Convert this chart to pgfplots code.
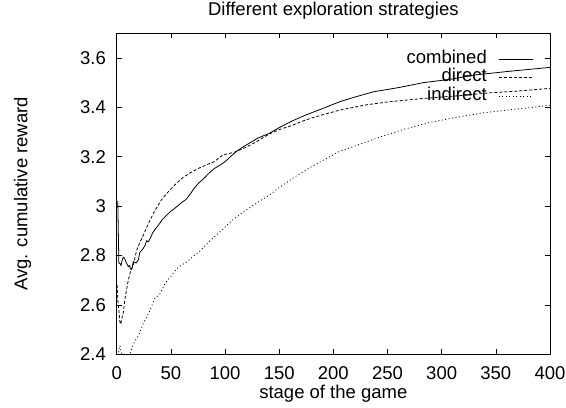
\documentclass[border=0pt]{standalone}
\usepackage{fontspec}
\setmainfont{Liberation Sans}
\usepackage{pgfplots}
\pgfplotsset{compat=1.18}

\begin{document}
\fontsize{18.5bp}{22bp}\selectfont
\begin{tikzpicture}
\begin{axis}[
    name=ax,
    scale only axis,
    width=433.3bp,
    height=321bp,
    xmin=0, xmax=400,
    ymin=2.4, ymax=3.7,
    xtick={0,50,...,400},
    ytick={2.4,2.6,2.8,3.0,3.2,3.4,3.6},
    /pgf/number format/assume math mode=true,
    tick align=inside,
    tick pos=both,
    major tick length=5bp,
    axis line style={line width=0.9bp},
    tick style={line width=0.6bp, black},
    xticklabel style={anchor=base, inner sep=0pt, yshift=-25bp},
    yticklabel style={anchor=east, inner sep=0pt, xshift=-10.7bp},
    title={Different exploration strategies},
    title style={at={(axis description cs:0.5,1)}, anchor=base, inner sep=0pt, yshift=11.6bp},
    xlabel={stage of the game},
    xlabel style={at={(axis description cs:0.5,-0.1371)}, anchor=base, inner sep=0pt},
    ylabel={Avg. cumulative reward},
    ylabel style={at={(axis description cs:-0.2063,0.5)}, anchor=base, inner sep=0pt},
    legend plot pos=right,
    legend cell align=right,
    legend image code/.code={\draw[#1] (0bp,0bp) -- (34bp,0bp);},
    legend style={draw=none, fill=none, inner sep=0pt, outer sep=0pt,
        at={(0.9615,0.9488)}, anchor=north east,
        column sep=11.7bp,
        nodes={inner sep=0pt, text height=13.75bp, text depth=4.75bp}},
]
\addplot[black, line width=0.8bp] coordinates {
    (1,3.02) (2,2.77) (3,2.768) (4,2.76) (5,2.78) (6,2.793) (7,2.79) (9,2.77)
    (10.7,2.755) (12,2.76) (12.6,2.745) (14,2.745) (15.3,2.775) (18,2.77)
    (19.9,2.782) (21.5,2.815) (24,2.825) (26,2.84) (27.7,2.86) (29,2.855)
    (30.8,2.868) (33,2.89) (36,2.91) (38.4,2.922) (42,2.945) (46,2.963)
    (50,2.98) (52,2.985) (56,3.0) (60,3.015) (64,3.027) (68,3.05) (72,3.075)
    (76,3.095) (80,3.11) (85,3.133) (90,3.152) (95,3.165) (100,3.18)
    (105,3.2) (110,3.22) (116,3.238) (122,3.254) (130,3.275) (141,3.295)
    (150,3.318) (162,3.345) (175,3.37) (190,3.395) (206,3.423) (220,3.442)
    (237,3.463) (260,3.48) (283,3.50) (310,3.515) (330,3.531) (360,3.545)
    (400,3.562)
};
\addplot[black, line width=0.8bp, dash pattern=on 3bp off 2bp] coordinates {
    (0.5,2.68) (1,2.62) (2,2.58) (3,2.53) (3.7,2.522) (5,2.55) (6,2.566)
    (7.7,2.627) (10.7,2.70) (13,2.74) (15.3,2.762) (18.5,2.822) (21,2.85)
    (24.6,2.883) (30.8,2.944) (35,2.98) (42,3.03) (48,3.06) (55,3.092)
    (61,3.115) (67,3.133) (75,3.152) (82,3.166) (90,3.18) (98,3.207)
    (110,3.22) (120,3.24) (129,3.261) (140,3.29) (150,3.31) (160,3.324)
    (175,3.35) (190,3.37) (206,3.389) (230,3.41) (252,3.423) (283,3.436)
    (315,3.447) (345,3.459) (370,3.466) (400,3.477)
};
\addplot[black, line width=0.8bp, dash pattern=on 1bp off 2.5bp] coordinates {
    (1,2.38) (2,2.42) (3,2.435) (4,2.41) (6,2.39) (8,2.385) (10,2.39)
    (12,2.40) (14,2.425) (17,2.455) (20,2.475) (25,2.53) (30,2.57)
    (35,2.625) (40,2.645) (45,2.69) (50,2.715) (55,2.745) (60,2.762)
    (65,2.775) (70,2.795) (76,2.815) (85,2.855) (92,2.883) (100,2.915)
    (107,2.944) (115,2.97) (122,2.991) (130,3.015) (141,3.045) (150,3.075)
    (165,3.12) (180,3.16) (191,3.187) (205,3.22) (222,3.247) (245,3.283)
    (268,3.315) (290,3.34) (314,3.36) (337,3.377) (360,3.389) (380,3.398)
    (400,3.409)
};
\legend{combined, direct, indirect}
\end{axis}
\pgfresetboundingbox
\path (ax.south west) ++(-116.7bp,-53.7bp) rectangle ++(566bp,408bp);
\end{tikzpicture}
\end{document}
